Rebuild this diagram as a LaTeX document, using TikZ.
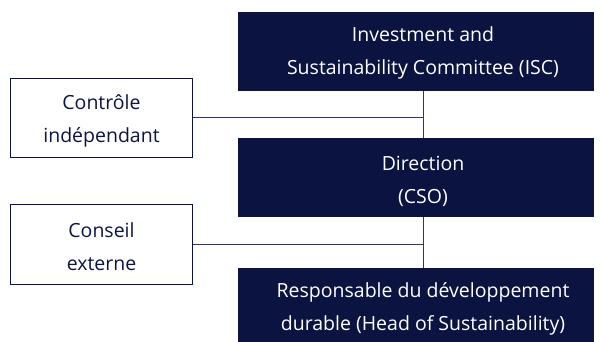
\documentclass[tikz,border=0pt]{standalone}
\usepackage{fontspec}
\setmainfont{Open Sans}
\usetikzlibrary{positioning,calc}
\definecolor{navy}{HTML}{0B1441}

\tikzset{
    darkbox/.style={fill=navy, minimum width=356, minimum height=79, anchor=north west, inner sep=0pt},
    darktext/.style={text=white, align=center, inner sep=0pt},
    lightbox/.style={draw=navy, line width=1, minimum width=182, minimum height=79, anchor=north west, inner sep=0pt},
    lighttext/.style={text=navy, align=center, inner sep=0pt},
    link/.style={draw=navy!85, line width=1}
}

\begin{document}
\begin{tikzpicture}[x=1pt, y=1pt, font=\fontsize{19.5}{33}\selectfont]
    \useasboundingbox (0,0) rectangle (600,-342);
    \coordinate (spine) at (423,0);

    \node [darkbox] (isc) at (238,-12) {};
    \node [darkbox] (dir) at (238,-138) {};
    \node [darkbox, minimum height=74] (head) at (238,-268) {};

    \node [darktext] (isctxt) at ($(isc.center -| spine)+(0,-1.5)$) {Investment and\\Sustainability Committee (ISC)};
    \node [darktext] (dirtxt) at ($(dir.center -| spine)+(0,-4)$) {Direction\\(CSO)};
    \node [darktext] (headtxt) at ($(head.center -| spine)+(0,-4)$) {Responsable du développement\\durable (Head of Sustainability)};

    \node [lightbox] (ctl) at (10,-78) {};
    \node [lightbox, minimum height=80] (cons) at (10,-204) {};

    \node [lighttext] (ctltxt) at ($(ctl.center)+(0,-3)$) {Contrôle\\indépendant};
    \node [lighttext] (constxt) at ($(cons.center)+(0,-2)$) {Conseil\\externe};

    \path [link]
        (isc.south -| spine) -- (dir.north -| spine)
        (dir.south -| spine) -- (head.north -| spine)
        (ctl.east) -- (ctl.east -| spine)
        (cons.east) -- (cons.east -| spine);
\end{tikzpicture}
\end{document}
